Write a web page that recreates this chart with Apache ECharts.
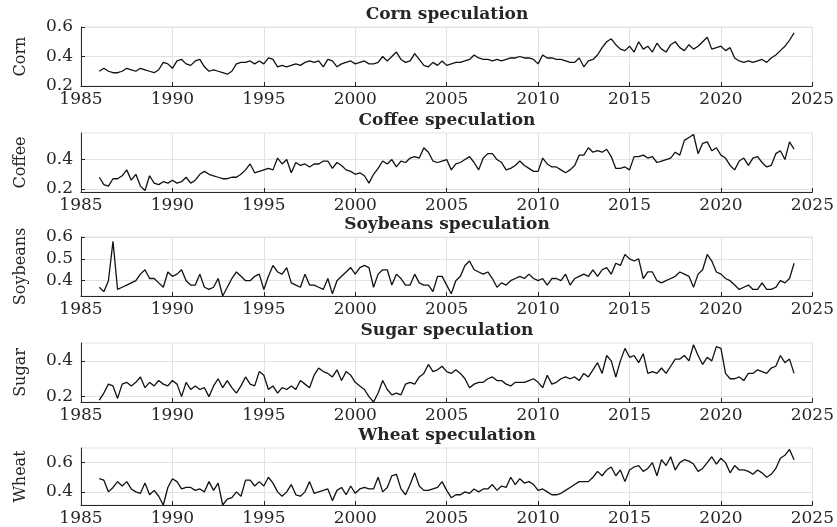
<!DOCTYPE html>
<html>
<head>
<meta charset="utf-8">
<script src="https://cdn.jsdelivr.net/npm/echarts@6/dist/echarts.min.js"></script>
<style>
  html, body { margin: 0; padding: 0; background: #fff; }
  #chart { width: 837px; height: 527px; }
</style>
</head>
<body>
<div id="chart"></div>
<script>
// quarterly readings, first one at 1986.0
const startYear = 1986;
const stepYears = 0.25;
const xMin = 1985, xMax = 2025, xStep = 5;

const corn = [
  0.30, 0.32, 0.30, 0.29, 0.29, 0.30, 0.32, 0.31,
  0.30, 0.32, 0.31, 0.30, 0.29, 0.31, 0.36, 0.35,
  0.32, 0.37, 0.38, 0.35, 0.34, 0.37, 0.38, 0.33,
  0.30, 0.31, 0.30, 0.29, 0.28, 0.30, 0.35, 0.36,
  0.36, 0.37, 0.35, 0.37, 0.35, 0.39, 0.38, 0.33,
  0.34, 0.33, 0.34, 0.35, 0.34, 0.36, 0.37, 0.36,
  0.37, 0.33, 0.38, 0.37, 0.33, 0.35, 0.36, 0.37,
  0.35, 0.36, 0.37, 0.35, 0.35, 0.36, 0.40, 0.37,
  0.40, 0.43, 0.38, 0.36, 0.37, 0.42, 0.38, 0.34,
  0.33, 0.36, 0.34, 0.37, 0.34, 0.35, 0.36, 0.36,
  0.37, 0.38, 0.41, 0.39, 0.38, 0.38, 0.37, 0.38,
  0.37, 0.38, 0.39, 0.39, 0.40, 0.39, 0.39, 0.38,
  0.35, 0.41, 0.39, 0.39, 0.38, 0.38, 0.37, 0.36,
  0.36, 0.39, 0.33, 0.37, 0.38, 0.41, 0.46, 0.50,
  0.52, 0.48, 0.45, 0.44, 0.47, 0.43, 0.50, 0.45,
  0.47, 0.43, 0.49, 0.45, 0.43, 0.48, 0.50, 0.46,
  0.44, 0.48, 0.45, 0.47, 0.50, 0.53, 0.45, 0.46,
  0.47, 0.44, 0.46, 0.39, 0.37, 0.36, 0.37, 0.36,
  0.37, 0.38, 0.36, 0.39, 0.41, 0.44, 0.47, 0.51,
  0.56
];

const coffee = [
  0.28, 0.23, 0.22, 0.27, 0.27, 0.29, 0.33, 0.26,
  0.30, 0.22, 0.19, 0.29, 0.24, 0.23, 0.25, 0.24,
  0.26, 0.24, 0.25, 0.28, 0.24, 0.26, 0.30, 0.32,
  0.30, 0.29, 0.28, 0.27, 0.27, 0.28, 0.28, 0.30,
  0.33, 0.37, 0.31, 0.32, 0.33, 0.34, 0.33, 0.41,
  0.37, 0.40, 0.31, 0.38, 0.36, 0.37, 0.35, 0.37,
  0.37, 0.39, 0.39, 0.34, 0.38, 0.36, 0.33, 0.32,
  0.30, 0.31, 0.29, 0.24, 0.30, 0.34, 0.39, 0.37,
  0.40, 0.35, 0.39, 0.38, 0.41, 0.42, 0.41, 0.48,
  0.45, 0.39, 0.38, 0.39, 0.40, 0.33, 0.37, 0.38,
  0.40, 0.42, 0.38, 0.33, 0.41, 0.44, 0.44, 0.40,
  0.38, 0.33, 0.34, 0.36, 0.39, 0.36, 0.34, 0.32,
  0.32, 0.41, 0.37, 0.35, 0.35, 0.33, 0.31, 0.33,
  0.36, 0.43, 0.43, 0.48, 0.45, 0.46, 0.45, 0.47,
  0.42, 0.34, 0.34, 0.35, 0.33, 0.42, 0.42, 0.43,
  0.41, 0.42, 0.38, 0.39, 0.40, 0.41, 0.45, 0.43,
  0.53, 0.55, 0.57, 0.44, 0.51, 0.52, 0.46, 0.48,
  0.43, 0.41, 0.36, 0.33, 0.39, 0.41, 0.36, 0.41,
  0.42, 0.38, 0.35, 0.36, 0.44, 0.46, 0.40, 0.52,
  0.47
];

const soybeans = [
  0.37, 0.35, 0.40, 0.58, 0.36, 0.37, 0.38, 0.39,
  0.40, 0.43, 0.45, 0.41, 0.41, 0.39, 0.37, 0.44,
  0.42, 0.43, 0.45, 0.40, 0.38, 0.38, 0.43, 0.37,
  0.36, 0.37, 0.41, 0.33, 0.37, 0.41, 0.44, 0.42,
  0.40, 0.40, 0.42, 0.43, 0.36, 0.42, 0.47, 0.44,
  0.43, 0.46, 0.39, 0.38, 0.37, 0.43, 0.38, 0.38,
  0.37, 0.36, 0.41, 0.34, 0.40, 0.42, 0.44, 0.46,
  0.43, 0.46, 0.47, 0.46, 0.37, 0.43, 0.45, 0.45,
  0.38, 0.43, 0.41, 0.38, 0.38, 0.43, 0.39, 0.38,
  0.38, 0.35, 0.42, 0.42, 0.38, 0.34, 0.40, 0.42,
  0.47, 0.49, 0.45, 0.44, 0.43, 0.44, 0.41, 0.37,
  0.39, 0.38, 0.40, 0.41, 0.42, 0.41, 0.43, 0.41,
  0.40, 0.41, 0.38, 0.41, 0.41, 0.40, 0.43, 0.38,
  0.41, 0.42, 0.43, 0.42, 0.45, 0.42, 0.45, 0.46,
  0.43, 0.48, 0.47, 0.52, 0.50, 0.49, 0.50, 0.41,
  0.44, 0.44, 0.40, 0.39, 0.40, 0.41, 0.42, 0.44,
  0.43, 0.42, 0.37, 0.43, 0.45, 0.52, 0.49, 0.44,
  0.43, 0.41, 0.40, 0.38, 0.36, 0.37, 0.38, 0.36,
  0.36, 0.39, 0.36, 0.36, 0.37, 0.40, 0.39, 0.41,
  0.48
];

const sugar = [
  0.18, 0.22, 0.27, 0.26, 0.19, 0.27, 0.28, 0.26,
  0.28, 0.31, 0.25, 0.28, 0.26, 0.29, 0.27, 0.26,
  0.29, 0.27, 0.20, 0.28, 0.24, 0.26, 0.24, 0.25,
  0.20, 0.26, 0.30, 0.25, 0.29, 0.25, 0.22, 0.26,
  0.31, 0.27, 0.26, 0.34, 0.32, 0.24, 0.26, 0.22,
  0.25, 0.24, 0.26, 0.24, 0.29, 0.27, 0.25, 0.32,
  0.36, 0.34, 0.33, 0.31, 0.35, 0.29, 0.34, 0.32,
  0.28, 0.26, 0.24, 0.20, 0.17, 0.22, 0.29, 0.24,
  0.21, 0.22, 0.21, 0.27, 0.28, 0.27, 0.31, 0.33,
  0.38, 0.34, 0.35, 0.37, 0.34, 0.33, 0.35, 0.33,
  0.30, 0.25, 0.27, 0.28, 0.28, 0.30, 0.31, 0.29,
  0.29, 0.27, 0.26, 0.28, 0.28, 0.28, 0.29, 0.30,
  0.28, 0.25, 0.32, 0.27, 0.28, 0.30, 0.31, 0.30,
  0.31, 0.29, 0.33, 0.31, 0.35, 0.39, 0.33, 0.43,
  0.40, 0.31, 0.40, 0.47, 0.42, 0.43, 0.39, 0.44,
  0.33, 0.34, 0.33, 0.36, 0.33, 0.37, 0.41, 0.41,
  0.43, 0.40, 0.49, 0.43, 0.38, 0.42, 0.40, 0.48,
  0.47, 0.33, 0.30, 0.30, 0.31, 0.29, 0.33, 0.33,
  0.35, 0.34, 0.33, 0.36, 0.37, 0.43, 0.39, 0.41,
  0.33
];

const wheat = [
  0.49, 0.48, 0.40, 0.43, 0.47, 0.44, 0.47, 0.42,
  0.40, 0.39, 0.46, 0.38, 0.41, 0.37, 0.31, 0.43,
  0.49, 0.47, 0.42, 0.43, 0.43, 0.41, 0.42, 0.40,
  0.47, 0.41, 0.46, 0.31, 0.35, 0.36, 0.40, 0.37,
  0.48, 0.48, 0.44, 0.47, 0.44, 0.50, 0.46, 0.40,
  0.37, 0.40, 0.45, 0.38, 0.37, 0.40, 0.47, 0.39,
  0.40, 0.41, 0.42, 0.34, 0.41, 0.43, 0.38, 0.44,
  0.39, 0.42, 0.43, 0.42, 0.42, 0.50, 0.40, 0.43,
  0.51, 0.52, 0.42, 0.38, 0.45, 0.53, 0.44, 0.41,
  0.41, 0.42, 0.43, 0.47, 0.41, 0.36, 0.38, 0.38,
  0.40, 0.39, 0.42, 0.40, 0.42, 0.42, 0.45, 0.41,
  0.44, 0.43, 0.50, 0.45, 0.49, 0.46, 0.47, 0.45,
  0.41, 0.42, 0.40, 0.38, 0.38, 0.39, 0.41, 0.43,
  0.45, 0.47, 0.47, 0.47, 0.50, 0.54, 0.51, 0.55,
  0.57, 0.51, 0.55, 0.47, 0.55, 0.57, 0.58, 0.54,
  0.56, 0.60, 0.51, 0.62, 0.58, 0.64, 0.55, 0.60,
  0.62, 0.61, 0.59, 0.54, 0.56, 0.60, 0.64, 0.59,
  0.63, 0.60, 0.53, 0.58, 0.55, 0.55, 0.54, 0.52,
  0.55, 0.53, 0.50, 0.52, 0.56, 0.63, 0.65, 0.69,
  0.62
];

const cornTicks = [0.2, 0.4, 0.6];
const coffeeTicks = [0.2, 0.4];
const soybeansTicks = [0.4, 0.5, 0.6];
const sugarTicks = [0.2, 0.4];
const wheatTicks = [0.4, 0.6];

const panels = [
  { title: 'Corn speculation', label: 'Corn', values: corn, ticks: cornTicks, min: 0.2, max: 0.6 },
  { title: 'Coffee speculation', label: 'Coffee', values: coffee, ticks: coffeeTicks, min: 0.18, max: 0.58 },
  { title: 'Soybeans speculation', label: 'Soybeans', values: soybeans, ticks: soybeansTicks, min: 0.33, max: 0.6 },
  { title: 'Sugar speculation', label: 'Sugar', values: sugar, ticks: sugarTicks, min: 0.17, max: 0.5 },
  { title: 'Wheat speculation', label: 'Wheat', values: wheat, ticks: wheatTicks, min: 0.31, max: 0.7 },
];

const serif = '"DejaVu Serif", "Liberation Serif", serif';
const ink = '#262626';
const gridColor = '#e2e2e2';
const tops = [27, 133, 237, 343, 448];
const plotH = 59, plotLeft = 81, plotRight = 24;

const chart = echarts.init(document.getElementById('chart'));

chart.setOption({
  animation: false,
  backgroundColor: '#fff',
  grid: panels.map((p, i) => ({
    left: plotLeft, right: plotRight, top: tops[i], height: plotH,
    show: true, borderColor: gridColor, borderWidth: 1,
  })),
  graphic: panels.map((p, i) => ({
    type: 'text',
    x: plotLeft + (837 - plotLeft - plotRight) / 2,
    y: tops[i] - 12,
    style: {
      text: p.title, fill: ink, align: 'center', verticalAlign: 'middle',
      fontFamily: serif, fontWeight: 'bold', fontSize: 17,
    },
  })),
  xAxis: panels.map((p, i) => ({
    gridIndex: i, type: 'value', min: xMin, max: xMax, interval: xStep,
    axisLine: { onZero: false, lineStyle: { color: ink, width: 1 } },
    axisTick: { inside: true, length: 4, lineStyle: { color: ink } },
    axisLabel: { formatter: v => String(v), fontFamily: serif, fontSize: 17, color: ink, margin: 5 },
    splitLine: { show: true, lineStyle: { color: gridColor, width: 1 } },
  })),
  yAxis: panels.map((p, i) => ({
    gridIndex: i, type: 'value', min: p.min, max: p.max,
    name: p.label, nameLocation: 'middle', nameRotate: 90, nameGap: 52,
    nameTextStyle: { fontFamily: serif, fontSize: 16, color: ink },
    axisLine: { show: true, onZero: false, lineStyle: { color: ink, width: 1 } },
    axisTick: { show: true, inside: true, length: 4, customValues: p.ticks, lineStyle: { color: ink } },
    axisLabel: { customValues: p.ticks, formatter: v => v.toFixed(1), fontFamily: serif, fontSize: 17, color: ink, margin: 8 },
    splitLine: { show: true, lineStyle: { color: gridColor, width: 1 } },
  })),
  series: panels.map((p, i) => ({
    type: 'line', xAxisIndex: i, yAxisIndex: i,
    data: p.values.map((v, k) => [startYear + k * stepYears, v]),
    showSymbol: false, silent: true,
    lineStyle: { color: '#111', width: 1.3 },
  })),
});
</script>
</body>
</html>
